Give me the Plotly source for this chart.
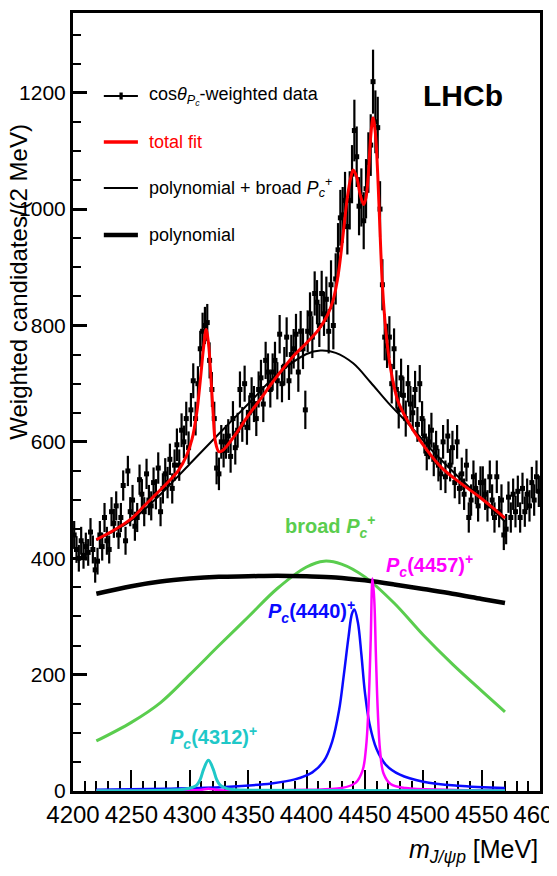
import plotly.graph_objects as go

# ---------------- data ----------------
bin_centers = [4201 + 2 * i for i in range(200)]

data_values = [
    440, 415, 400, 430, 405,   420, 410, 445, 415, 380,
    395, 440, 420, 470, 430,   415, 480, 460, 490, 440,
    470, 525, 430, 550, 480,   500, 455, 470, 535, 510,
    480, 545, 500, 490, 530,   510, 555, 480, 520, 545,
    530, 570, 520, 560, 595,   560, 620, 600, 640, 590,
    655, 705, 640, 700, 760,   790, 800, 805, 740, 690,
    640, 555, 545, 600, 585,   600, 610, 575, 640, 590,
    620, 690, 630, 700, 625,   650, 680, 665, 640, 690,
    710, 665, 740, 720, 690,   720, 740, 705, 785, 700,
    730, 780, 705, 750, 760,   785, 720, 790, 760, 655,
    790, 820, 780, 855, 840,   800, 855, 820, 845, 790,
    870, 800, 880, 930, 985,   990, 1015, 970, 1015, 1060,
    1135, 1090, 1005, 1020, 980, 1035, 1080, 1110, 1219, 1150,
    1140, 1000, 870, 780, 765,  780, 700, 760, 690, 655,
    710, 680, 640, 700, 665,   650, 690, 630, 700, 640,
    610, 580, 600, 620, 570,   590, 560, 545, 600, 540,
    610, 560, 590, 530, 600,   520, 545, 510, 560, 470,
    500, 540, 520, 490, 530,   530, 510, 490, 540, 500,
    470, 540, 480, 500, 440,   450, 505, 470, 510, 480,
    515, 470, 520, 480, 510,   490, 530, 500, 540, 515,
]

data_errors = [
    24, 23, 23, 24, 23,   24, 23, 24, 24, 22,
    23, 24, 24, 25, 24,   24, 25, 25, 25, 24,
    25, 26, 24, 26, 25,   26, 25, 25, 26, 26,
    25, 26, 26, 25, 26,   26, 27, 25, 26, 27,
    27, 27, 26, 27, 28,   27, 29, 28, 29, 28,
    29, 30, 29, 30, 31,   32, 32, 32, 31, 30,
    29, 28, 28, 29, 29,   29, 29, 28, 30, 29,
    30, 31, 30, 31, 30,   30, 31, 31, 30, 31,
    31, 31, 32, 32, 31,   32, 32, 32, 33, 32,
    33, 34, 33, 34, 34,   35, 34, 35, 35, 33,
    36, 37, 36, 38, 38,   37, 39, 38, 39, 38,
    42, 41, 44, 46, 48,   48, 49, 48, 50, 50,
    53, 52, 50, 50, 49,   51, 52, 53, 55, 54,
    53, 48, 44, 40, 38,   36, 34, 35, 33, 32,
    33, 32, 31, 32, 31,   31, 32, 30, 32, 30,
    30, 29, 30, 30, 29,   29, 28, 28, 29, 28,
    29, 28, 29, 27, 29,   27, 28, 27, 28, 26,
    27, 28, 27, 27, 28,   28, 27, 27, 28, 27,
    26, 28, 27, 27, 26,   26, 27, 26, 27, 27,
    27, 26, 27, 26, 27,   27, 27, 27, 28, 27,
]

total_x = [4220, 4235, 4250, 4260, 4270, 4280, 4290, 4297, 4302, 4306, 4309,
           4312, 4314, 4316, 4318, 4320, 4322, 4325, 4328, 4333, 4340, 4350,
           4360, 4370, 4380, 4390, 4400, 4410, 4418, 4423, 4427, 4431, 4435,
           4438, 4440, 4443, 4446, 4449, 4451, 4453, 4455, 4457, 4459, 4461,
           4463, 4465, 4468, 4472, 4478, 4486, 4497, 4515, 4532, 4549, 4570]
total_y = [432, 448, 468, 488, 508, 528, 550, 575, 605, 650, 705,
           765, 793, 770, 715, 650, 600, 583, 585, 596, 615, 645,
           672, 700, 726, 750, 770, 792, 818, 845, 885, 950, 1020,
           1055, 1067, 1055, 1025, 1008, 1020, 1060, 1125, 1157, 1130, 1060,
           960, 870, 790, 726, 672, 638, 603, 557, 529, 504, 469]

polybroad_x = [4220, 4250, 4275, 4300, 4325, 4350, 4375, 4400, 4412, 4425,
               4440, 4455, 4470, 4490, 4510, 4530, 4550, 4570]
polybroad_y = [431, 465, 510, 562, 614, 665, 716, 751, 757, 753,
               735, 702, 667, 625, 580, 540, 502, 463]

poly_x = [4220, 4250, 4275, 4300, 4325, 4350, 4375, 4400, 4425, 4450,
          4475, 4500, 4525, 4550, 4570]
poly_y = [339, 352, 360, 365, 368, 369, 370, 369, 367, 362,
          355, 347, 339, 330, 323]

broad_x = [4220, 4250, 4275, 4300, 4325, 4350, 4375, 4400, 4415, 4430,
           4450, 4475, 4500, 4525, 4550, 4570]
broad_y = [86, 118, 152, 200, 250, 299, 348, 385, 395, 390,
           368, 323, 268, 218, 172, 136]

pc4440_x = [4220, 4280, 4330, 4370, 4390, 4405, 4415, 4422, 4428, 4432, 4436,
            4439, 4441, 4444, 4447, 4450, 4454, 4460, 4468, 4480, 4500, 4530, 4570]
pc4440_y = [2, 4, 7, 13, 20, 32, 52, 85, 140, 200, 265,
            305, 312, 290, 235, 170, 115, 72, 45, 28, 16, 9, 5]

pc4457_x = [4220, 4300, 4310, 4316, 4325, 4400, 4430, 4442, 4448, 4451, 4453,
            4455, 4456.5, 4458, 4459.5, 4461, 4463, 4466, 4472, 4485, 4520, 4570]
pc4457_y = [0.5, 1, 2, 4, 1.5, 2, 5, 14, 35, 75, 140,
            260, 365, 330, 230, 140, 70, 30, 12, 5, 2, 1]

pc4312_x = [4220, 4280, 4295, 4302, 4306, 4309, 4312, 4316, 4320, 4323,
            4326, 4332, 4340, 4360, 4400, 4570]
pc4312_y = [0.5, 1.5, 3, 6, 10, 20, 38, 53, 38, 20,
            10, 4, 2, 1.2, 0.8, 0.5]

x_ticks = [4200, 4250, 4300, 4350, 4400, 4450, 4500, 4550, 4600]
y_ticks = [0, 200, 400, 600, 800, 1000, 1200]

legend_labels = ["cos<i>θ</i><sub><i>P<sub>c</sub></i></sub>-weighted data",
                 "total fit",
                 "polynomial + broad <i>P</i><sub><i>c</i></sub><sup>+</sup>",
                 "polynomial"]

# ---------------- figure ----------------
FONT = "Liberation Sans, Arial, sans-serif"
GREEN = "#5acd4e"
CYAN = "#1fc8c8"

fig = go.Figure()

fig.add_trace(go.Scatter(x=broad_x, y=broad_y, mode="lines", line_shape="spline",
                         line=dict(color=GREEN, width=3)))
fig.add_trace(go.Scatter(x=poly_x, y=poly_y, mode="lines", line_shape="spline",
                         line=dict(color="black", width=4.5)))
fig.add_trace(go.Scatter(x=pc4440_x, y=pc4440_y, mode="lines", line_shape="spline",
                         line=dict(color="#0a0aff", width=2.5)))
fig.add_trace(go.Scatter(x=pc4457_x, y=pc4457_y, mode="lines", line_shape="spline",
                         line=dict(color="#ff00ff", width=2.5)))
fig.add_trace(go.Scatter(x=pc4312_x, y=pc4312_y, mode="lines", line_shape="spline",
                         line=dict(color=CYAN, width=3)))

fig.add_trace(go.Scatter(x=bin_centers, y=data_values, mode="markers",
                         marker=dict(symbol="square", size=5, color="black"),
                         error_y=dict(type="data", array=data_errors, color="black",
                                      thickness=2.2, width=0)))

fig.add_trace(go.Scatter(x=polybroad_x, y=polybroad_y, mode="lines", line_shape="spline",
                         line=dict(color="black", width=2)))
fig.add_trace(go.Scatter(x=total_x, y=total_y, mode="lines", line_shape="spline",
                         line=dict(color="#ff0000", width=3)))

# ---------------- manual legend ----------------
leg_rows = [0.8933, 0.8342, 0.7751, 0.7147]
leg_styles = [("black", 2), ("#ff0000", 3.5), ("black", 2), ("black", 4.5)]
leg_colors = ["black", "#ff0000", "black", "black"]
shapes = []
annotations = []
for yv, (c, w), lab, tc in zip(leg_rows, leg_styles, legend_labels, leg_colors):
    shapes.append(dict(type="line", xref="paper", yref="paper",
                       x0=0.066, x1=0.139, y0=yv, y1=yv,
                       line=dict(color=c, width=w)))
    annotations.append(dict(xref="paper", yref="paper", x=0.158, y=yv,
                            xanchor="left", yanchor="middle", showarrow=False,
                            text=lab, font=dict(family=FONT, size=18, color=tc)))
shapes.append(dict(type="rect", xref="paper", yref="paper",
                   x0=0.0995, x1=0.1065, y0=leg_rows[0] - 0.0045, y1=leg_rows[0] + 0.0045,
                   fillcolor="black", line=dict(width=0)))

# blue block at the right edge (part of the slide)
shapes.append(dict(type="rect", xref="paper", yref="paper",
                   x0=1.026, x1=1.08, y0=-0.053, y1=0.0296,
                   fillcolor="#3f5f8c", line=dict(width=0)))

# component labels
annotations += [
    dict(x=4380, y=455, xref="x", yref="y", xanchor="left", yanchor="middle",
         showarrow=False, text="<b>broad <i>P</i><sub><i>c</i></sub><sup>+</sup></b>",
         font=dict(family=FONT, size=20, color=GREEN)),
    dict(x=4466, y=388, xref="x", yref="y", xanchor="left", yanchor="middle",
         showarrow=False, text="<b><i>P</i><sub><i>c</i></sub>(4457)<sup>+</sup></b>",
         font=dict(family=FONT, size=20, color="#ff00ff")),
    dict(x=4365, y=308, xref="x", yref="y", xanchor="left", yanchor="middle",
         showarrow=False, text="<b><i>P</i><sub><i>c</i></sub>(4440)<sup>+</sup></b>",
         font=dict(family=FONT, size=20, color="#0a0aff")),
    dict(x=4281, y=92, xref="x", yref="y", xanchor="left", yanchor="middle",
         showarrow=False, text="<b><i>P</i><sub><i>c</i></sub>(4312)<sup>+</sup></b>",
         font=dict(family=FONT, size=20, color=CYAN)),
    dict(xref="paper", yref="paper", x=0.835, y=0.894, xanchor="center", yanchor="middle",
         showarrow=False, text="<b>LHCb</b>", font=dict(family=FONT, size=30, color="black")),
    dict(xref="paper", yref="paper", x=-0.117, y=0.655, xanchor="center", yanchor="middle",
         textangle=-90, showarrow=False, text="Weighted candidates/(2 MeV)",
         font=dict(family=FONT, size=24, color="black")),
    dict(xref="paper", yref="paper", x=1.0, y=-0.077, xanchor="right", yanchor="middle",
         showarrow=False, text="<i>m</i><sub><i>J/ψp</i></sub> [MeV]",
         font=dict(family=FONT, size=25, color="black")),
]

# page body has an 8 px default margin, so the plot margins compensate for it
fig.update_layout(
    width=557, height=876,
    margin=dict(l=65, r=25, t=5, b=93),
    paper_bgcolor="white", plot_bgcolor="white",
    showlegend=False,
    font=dict(family=FONT, size=22, color="black"),
    shapes=shapes, annotations=annotations,
)
fig.update_xaxes(range=[4200, 4600], tickvals=x_ticks, ticks="inside", ticklen=21,
                 tickwidth=2, tickcolor="black", showline=True, linewidth=3,
                 linecolor="black", mirror=True, showgrid=False, zeroline=False,
                 layer="below traces", tickfont=dict(family=FONT, size=24),
                 tickangle=0, automargin=False, ticklabeloverflow="allow",
                 minor=dict(dtick=10, ticks="inside", ticklen=10, tickwidth=2,
                            tickcolor="black", showgrid=False))
fig.update_yaxes(range=[0, 1337], tickvals=y_ticks, ticks="inside", ticklen=14,
                 tickwidth=3, tickcolor="black", showline=True, linewidth=3,
                 linecolor="black", mirror=True, showgrid=False, zeroline=False,
                 tickfont=dict(family=FONT, size=21), automargin=False,
                 minor=dict(dtick=50, ticks="inside", ticklen=8, tickwidth=2,
                            tickcolor="black", showgrid=False))

fig.write_html("out.html")
